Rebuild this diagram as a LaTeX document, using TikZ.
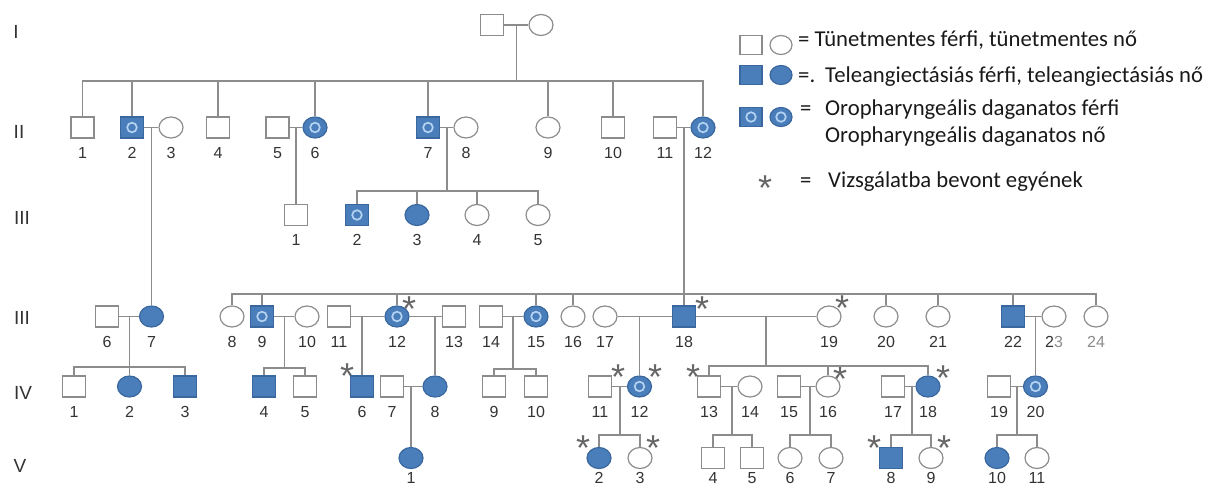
\documentclass[tikz,border=0pt]{standalone}
\usepackage{fontspec}
\setmainfont{Liberation Sans}
\newfontfamily\legfont{Carlito}
\usepackage{xcolor}
\usepackage{tikz}
\usetikzlibrary{shapes.geometric,positioning,calc}
\definecolor{affblue}{HTML}{4A7EBB}
\definecolor{affedge}{HTML}{3A679E}
\definecolor{ringblue}{HTML}{B4D2F2}
\definecolor{pedgray}{HTML}{8C8C8C}
\definecolor{numgray}{HTML}{333333}

\begin{document}
\begin{tikzpicture}[x=1pt,y=-1pt,
		every label/.style={inner sep=0pt, font=\fontsize{16}{16}\selectfont, text=numgray},
		label distance=8.5pt,
		man/.style={draw=pedgray, line width=1.2pt, fill=white, rectangle, minimum width=23pt, minimum height=21pt, inner sep=0pt},
		woman/.style={man, ellipse, minimum width=24pt},
		aff/.style={fill=affblue, draw=affedge},
		ca/.style={aff, path picture={\draw[ringblue, line width=1.7pt] (path picture bounding box.center) circle (4.8pt);}},
		lastgen/.style={label distance=3.5pt},
		link/.style={draw=pedgray, line width=1.2pt},
		gen/.style={font=\fontsize{19}{19}\selectfont, text=numgray},
		astk/.style={text=black!60, inner sep=0pt, anchor=north, font=\fontsize{36}{36}\selectfont},
		leg/.style={font=\legfont\fontsize{22.7}{24}\selectfont, text=black!90, anchor=base west, inner sep=0pt}]
		\useasboundingbox (0,0) rectangle (1206,488);

		\node[gen] (gI) at (16,32) {I};
		\node[gen] (gII) at (19,132) {II};
		\node[gen] (gIIIa) at (22,218) {III};
		\node[gen] (gIIIb) at (22,318) {III};
		\node[gen] (gIV) at (23,393) {IV};
		\node[gen] (gV) at (20,466) {V};

		\node[man] (g1p1) at (492,25) {};
		\node[woman] (g1p2) at (541,25) {};

		\node[man, label=below:1] (g2p1) at (82.5,127.5) {};
		\node[man, ca, label=below:2] (g2p2) at (132,127.5) {};
		\node[woman, label=below:3] (g2p3) at (171,127.5) {};
		\node[man, label=below:4] (g2p4) at (218,127.5) {};
		\node[man, label=below:5] (g2p5) at (277.5,127.5) {};
		\node[woman, ca, label=below:6] (g2p6) at (315,127.5) {};
		\node[man, ca, label=below:7] (g2p7) at (428,127.5) {};
		\node[woman, label=below:8] (g2p8) at (466,127.5) {};
		\node[woman, label=below:9] (g2p9) at (548,127.5) {};
		\node[man, label=below:10] (g2p10) at (613,127.5) {};
		\node[man, label=below:11] (g2p11) at (665,127.5) {};
		\node[woman, ca, label=below:12] (g2p12) at (703,127.5) {};

		\node[man, label=below:1] (g3p1) at (296,215) {};
		\node[man, ca, label=below:2] (g3p2) at (357,215) {};
		\node[woman, aff, label=below:3] (g3p3) at (417,215) {};
		\node[woman, label=below:4] (g3p4) at (477,215) {};
		\node[woman, label=below:5] (g3p5) at (538,215) {};

		\node[man, label=below:6] (g3p6) at (107,316.5) {};
		\node[woman, aff, label=below:7] (g3p7) at (151.5,316.5) {};
		\node[woman, label=below:8] (g3p8) at (232,316.5) {};
		\node[man, ca, label=below:9] (g3p9) at (262,316.5) {};
		\node[woman, label=below:10] (g3p10) at (307,316.5) {};
		\node[man, label=below:11] (g3p11) at (339,316.5) {};
		\node[woman, ca, label=below:12] (g3p12) at (397,316.5) {};
		\node[man, label=below:13] (g3p13) at (454,316.5) {};
		\node[man, label=below:14] (g3p14) at (491,316.5) {};
		\node[woman, ca, label=below:15] (g3p15) at (536,316.5) {};
		\node[woman, label=below:16] (g3p16) at (573,316.5) {};
		\node[woman, label=below:17] (g3p17) at (605,316.5) {};
		\node[man, aff, label=below:18] (g3p18) at (684,316.5) {};
		\node[woman, label=below:19] (g3p19) at (829,316.5) {};
		\node[woman, label=below:20] (g3p20) at (886,316.5) {};
		\node[woman, label=below:21] (g3p21) at (938,316.5) {};
		\node[man, aff, label=below:22] (g3p22) at (1013,316.5) {};
		\node[woman, label={below:{2\textcolor{black!45}{3}}}] (g3p23) at (1054,316.5) {};
		\node[woman, label={[text=black!45]below:24}] (g3p24) at (1096,316.5) {};

		\node[man, label=below:1] (g4p1) at (74,386.5) {};
		\node[woman, aff, label=below:2] (g4p2) at (129.5,386.5) {};
		\node[man, aff, label=below:3] (g4p3) at (185,386.5) {};
		\node[man, aff, label=below:4] (g4p4) at (264,386.5) {};
		\node[man, label=below:5] (g4p5) at (305,386.5) {};
		\node[man, aff, label=below:6] (g4p6) at (362,386.5) {};
		\node[man, label=below:7] (g4p7) at (392,386.5) {};
		\node[woman, aff, label=below:8] (g4p8) at (435,386.5) {};
		\node[man, label=below:9] (g4p9) at (494,386.5) {};
		\node[man, label=below:10] (g4p10) at (536,386.5) {};
		\node[man, label=below:11] (g4p11) at (600,386.5) {};
		\node[woman, ca, label=below:12] (g4p12) at (639.5,386.5) {};
		\node[man, label=below:13] (g4p13) at (709,386.5) {};
		\node[woman, label=below:14] (g4p14) at (750,386.5) {};
		\node[man, label=below:15] (g4p15) at (789,386.5) {};
		\node[woman, label=below:16] (g4p16) at (828,386.5) {};
		\node[man, label=below:17] (g4p17) at (893,386.5) {};
		\node[woman, aff, label=below:18] (g4p18) at (928,386.5) {};
		\node[man, label=below:19] (g4p19) at (999,386.5) {};
		\node[woman, ca, label=below:20] (g4p20) at (1035.5,386.5) {};

		\node[woman, aff, label={[lastgen]below:1}] (g5p1) at (411,458) {};
		\node[woman, aff, label={[lastgen]below:2}] (g5p2) at (599,458) {};
		\node[woman, label={[lastgen]below:3}] (g5p3) at (640,458) {};
		\node[man, label={[lastgen]below:4}] (g5p4) at (713,458) {};
		\node[man, label={[lastgen]below:5}] (g5p5) at (752,458) {};
		\node[woman, label={[lastgen]below:6}] (g5p6) at (790,458) {};
		\node[woman, label={[lastgen]below:7}] (g5p7) at (831,458) {};
		\node[man, aff, label={[lastgen]below:8}] (g5p8) at (891,458) {};
		\node[woman, label={[lastgen]below:9}] (g5p9) at (931,458) {};
		\node[woman, aff, label={[lastgen]below:10}] (g5p10) at (997,458) {};
		\node[woman, label={[lastgen]below:11}] (g5p11) at (1037,458) {};

		\node[astk] (a3p12) at (409,297) {*};
		\node[astk] (a3p18) at (702,297) {*};
		\node[astk] (a3p19) at (842,296) {*};
		\node[astk] (a4p6) at (347,364) {*};
		\node[astk] (a4p11) at (618,365) {*};
		\node[astk] (a4p12) at (655,365) {*};
		\node[astk] (a4p13) at (693,365) {*};
		\node[astk] (a4p16) at (840,367) {*};
		\node[astk] (a4p18) at (943,366) {*};
		\node[astk] (a5p2) at (583,436) {*};
		\node[astk] (a5p3) at (653,436) {*};
		\node[astk] (a5p8) at (874,436) {*};
		\node[astk] (a5p9) at (944,436) {*};

		\coordinate (m1) at (516.5,25);
		\coordinate (s2) at (516.5,81);
		\draw[link] (g1p1) -- (g1p2);
		\draw[link] (m1) -- (s2);
		\draw[link] (g2p1) |- (s2) -| (g2p12);
		\foreach \c in {g2p2,g2p4,g2p6,g2p7,g2p9,g2p10}
			\draw[link] (\c) -- (\c |- s2);

		\coordinate (m2a) at (151.5,127.5);
		\coordinate (m2b) at (296,127.5);
		\coordinate (m2c) at (447,127.5);
		\coordinate (m2d) at (684,127.5);
		\coordinate (s3a) at (447,191);
		\coordinate (s3b) at (684,294);
		\draw[link] (g2p2) -- (g2p3);
		\draw[link] (g2p5) -- (g2p6);
		\draw[link] (g2p7) -- (g2p8);
		\draw[link] (g2p11) -- (g2p12);
		\draw[link] (m2a) -- (g3p7);
		\draw[link] (m2b) -- (g3p1);
		\draw[link] (m2c) -- (s3a);
		\draw[link] (g3p2) |- (s3a) -| (g3p5);
		\foreach \c in {g3p3,g3p4}
			\draw[link] (\c) -- (\c |- s3a);
		\draw[link] (m2d) -- (g3p18);
		\draw[link] (g3p8) |- (s3b) -| (g3p24);
		\foreach \c in {g3p9,g3p12,g3p15,g3p16,g3p20,g3p21,g3p22}
			\draw[link] (\c) -- (\c |- s3b);

		\coordinate (m3a) at (129.5,316.5);
		\coordinate (m3b) at (284.5,316.5);
		\coordinate (m3c) at (362,316.5);
		\coordinate (m3d) at (435,316.5);
		\coordinate (m3e) at (513,316.5);
		\coordinate (m3f) at (639.5,316.5);
		\coordinate (m3g) at (766,316.5);
		\coordinate (m3h) at (1035.5,316.5);
		\coordinate (s4a) at (129.5,367);
		\coordinate (s4b) at (284.5,368);
		\coordinate (s4c) at (513,369);
		\coordinate (s4d) at (766,366);
		\draw[link] (g3p6) -- (g3p7);
		\draw[link] (g3p9) -- (g3p10);
		\draw[link] (g3p11) -- (g3p12);
		\draw[link] (g3p12) -- (g3p13);
		\draw[link] (g3p14) -- (g3p15);
		\draw[link] (g3p17) -- (g3p18);
		\draw[link] (g3p18) -- (g3p19);
		\draw[link] (g3p22) -- (g3p23);
		\draw[link] (m3a) -- (g4p2);
		\draw[link] (g4p1) |- (s4a) -| (g4p3);
		\draw[link] (m3b) -- (s4b);
		\draw[link] (g4p4) |- (s4b) -| (g4p5);
		\draw[link] (m3c) -- (g4p6);
		\draw[link] (m3d) -- (g4p8);
		\draw[link] (m3e) -- (s4c);
		\draw[link] (g4p9) |- (s4c) -| (g4p10);
		\draw[link] (m3f) -- (g4p12);
		\draw[link] (m3g) -- (s4d);
		\draw[link] (g4p13) |- (s4d) -| (g4p18);
		\draw[link] (g4p16) -- (g4p16 |- s4d);
		\draw[link] (m3h) -- (g4p20);

		\coordinate (m4a) at (411,386.5);
		\coordinate (m4b) at (620,386.5);
		\coordinate (m4c) at (732,386.5);
		\coordinate (m4d) at (810,386.5);
		\coordinate (m4e) at (912,386.5);
		\coordinate (m4f) at (1017,386.5);
		\coordinate (s5a) at (620,435);
		\coordinate (s5b) at (732,435);
		\coordinate (s5c) at (810,435);
		\coordinate (s5d) at (912,435);
		\coordinate (s5e) at (1017,435);
		\draw[link] (g4p7) -- (g4p8);
		\draw[link] (g4p11) -- (g4p12);
		\draw[link] (g4p13) -- (g4p14);
		\draw[link] (g4p15) -- (g4p16);
		\draw[link] (g4p17) -- (g4p18);
		\draw[link] (g4p19) -- (g4p20);
		\draw[link] (m4a) -- (g5p1);
		\draw[link] (m4b) -- (s5a);
		\draw[link] (g5p2) |- (s5a) -| (g5p3);
		\draw[link] (m4c) -- (s5b);
		\draw[link] (g5p4) |- (s5b) -| (g5p5);
		\draw[link] (m4d) -- (s5c);
		\draw[link] (g5p6) |- (s5c) -| (g5p7);
		\draw[link] (m4e) -- (s5d);
		\draw[link] (g5p8) |- (s5d) -| (g5p9);
		\draw[link] (m4f) -- (s5e);
		\draw[link] (g5p10) |- (s5e) -| (g5p11);

		\node[man, minimum width=22pt, minimum height=19pt] (k1m) at (751,45) {};
		\node[woman, minimum width=22pt, minimum height=19pt] (k1f) at (781,45) {};
		\node[man, aff, minimum width=22pt, minimum height=19pt] (k2m) at (751,75) {};
		\node[woman, aff, minimum width=22pt, minimum height=19pt] (k2f) at (781,75) {};
		\node[man, ca, minimum width=22pt, minimum height=19pt] (k3m) at (751,117) {};
		\node[woman, ca, minimum width=22pt, minimum height=19pt] (k3f) at (781,117) {};
		\node[leg] (k1t) at (798,46) {= Tünetmentes férfi, tünetmentes nő};
		\node[leg] (k2e) at (798,82) {=.};
		\node[leg] (k2t) at (825,82) {Teleangiectásiás férfi, teleangiectásiás nő};
		\node[leg] (k3e) at (800,115) {=};
		\node[leg] (k3t) at (825,115) {Oropharyngeális daganatos férfi};
		\node[leg] (k3u) at (825,142) {Oropharyngeális daganatos nő};
		\node[astk] (k4a) at (765,176) {*};
		\node[leg] (k4e) at (800,187) {=};
		\node[leg] (k4t) at (828,187) {Vizsgálatba bevont egyének};
	\end{tikzpicture}
\end{document}
